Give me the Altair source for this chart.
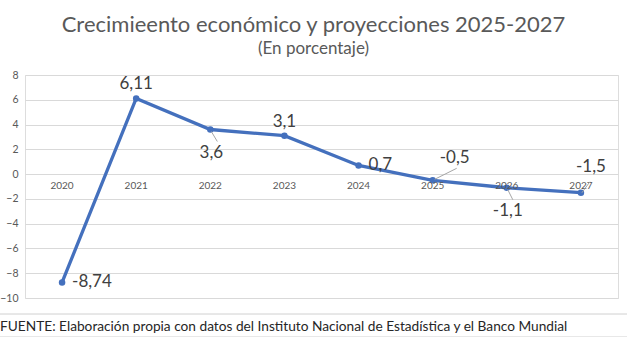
import altair as alt
import pandas as pd

years = ["2020", "2021", "2022", "2023", "2024", "2025", "2026", "2027"]
values = [-8.74, 6.11, 3.6, 3.1, 0.7, -0.5, -1.1, -1.5]
placement = ["right", "above", "below", "above", "right", "upright", "below", "upright2"]
y_ticks = [-10, -8, -6, -4, -2, 0, 2, 4, 6, 8]
title_text = "Crecimieento económico y proyecciones 2025-2027"
subtitle_text = "(En porcentaje)"
footer_text = "FUENTE: Elaboración propia con datos del Instituto Nacional de Estadística y el Banco Mundial"

FONT = "Lato"
LINE = "#4470BD"
GREY = "#595959"

df = pd.DataFrame({
    "year": years,
    "value": values,
    "label": [str(v).replace(".", ",") for v in values],
    "place": placement,
})

x = alt.X("year:O", axis=None, sort=years)
y = alt.Y("value:Q", scale=alt.Scale(domain=[-10, 8], nice=False, zero=False),
          axis=alt.Axis(values=y_ticks, tickCount=20, grid=True, gridColor="#d9d9d9", domain=False,
                        ticks=False, labelPadding=7, title=None, labelColor=GREY,
                        labelFontSize=10.5, labelFont=FONT, labelOverlap=False,
                        labelBound=False, labelFlush=False))

base = alt.Chart(df)

line = base.mark_line(color=LINE, strokeWidth=3.3).encode(x=x, y=y)
pts = base.mark_circle(color=LINE, size=42, opacity=1).encode(x=x, y="value:Q")

xlabels = base.mark_text(font=FONT, fontSize=10, color=GREY, baseline="middle", dy=12).encode(
    x=x, y=alt.datum(0), text="year:N")


def lab(place, **kw):
    return base.transform_filter(alt.datum.place == place).mark_text(
        font=FONT, fontSize=17, color="#404040", baseline="middle", **kw
    ).encode(x=x, y="value:Q", text="label:N")


labels = [
    lab("right", align="left", dx=10),
    lab("above", align="center", dy=-14),
    lab("below", align="center", dy=23, dx=1),
    lab("upright", align="center", dx=22, dy=-22),
    lab("upright2", align="center", dx=10, dy=-26),
]


def leader(year, x1, y1, x2, y2):
    return base.transform_filter(alt.datum.year == year).mark_rule(
        color="#a6a6a6", strokeWidth=1, xOffset=x1, yOffset=y1, x2Offset=x2, y2Offset=y2
    ).encode(x=x, y="value:Q", x2="year:O", y2="value:Q")


leaders = [
    leader("2022", 1, 2, 7, 12),
    leader("2025", 2, -1, 24, -12),
    leader("2026", 1, 2, 6, 12),
    leader("2027", 1, 0, 9, -11),
]

foot_df = pd.DataFrame({"text": [footer_text]})
footer = alt.Chart(foot_df).mark_text(font=FONT, fontSize=13.7, color="#262626",
                                      align="left", baseline="middle").encode(
    x=alt.value(-25), y=alt.value(252), text="text:N")
footline = alt.Chart(foot_df).mark_rule(color="#d0d0d0", strokeWidth=1).encode(
    x=alt.value(-25), x2=alt.value(602), y=alt.value(239))
footline2 = alt.Chart(foot_df).mark_rule(color="#d0d0d0", strokeWidth=1).encode(
    x=alt.value(-25), x2=alt.value(602), y=alt.value(262))

chart = alt.layer(line, pts, xlabels, *leaders, *labels, footline, footline2, footer).properties(
    width=593, height=223,
    title=alt.TitleParams(text=title_text, subtitle=subtitle_text, fontSize=22,
                          subtitleFontSize=17, color=GREY, subtitleColor=GREY,
                          font=FONT, subtitleFont=FONT, fontWeight="normal",
                          anchor="middle", dx=-8, offset=12, subtitlePadding=4),
    autosize=alt.AutoSizeParams(type="none"),
    padding={"left": 25, "top": 75, "right": 9, "bottom": 39},
).configure_view(stroke=None).configure(background="white")

chart.save("out.html", embed_options={"renderer": "svg", "actions": False})
